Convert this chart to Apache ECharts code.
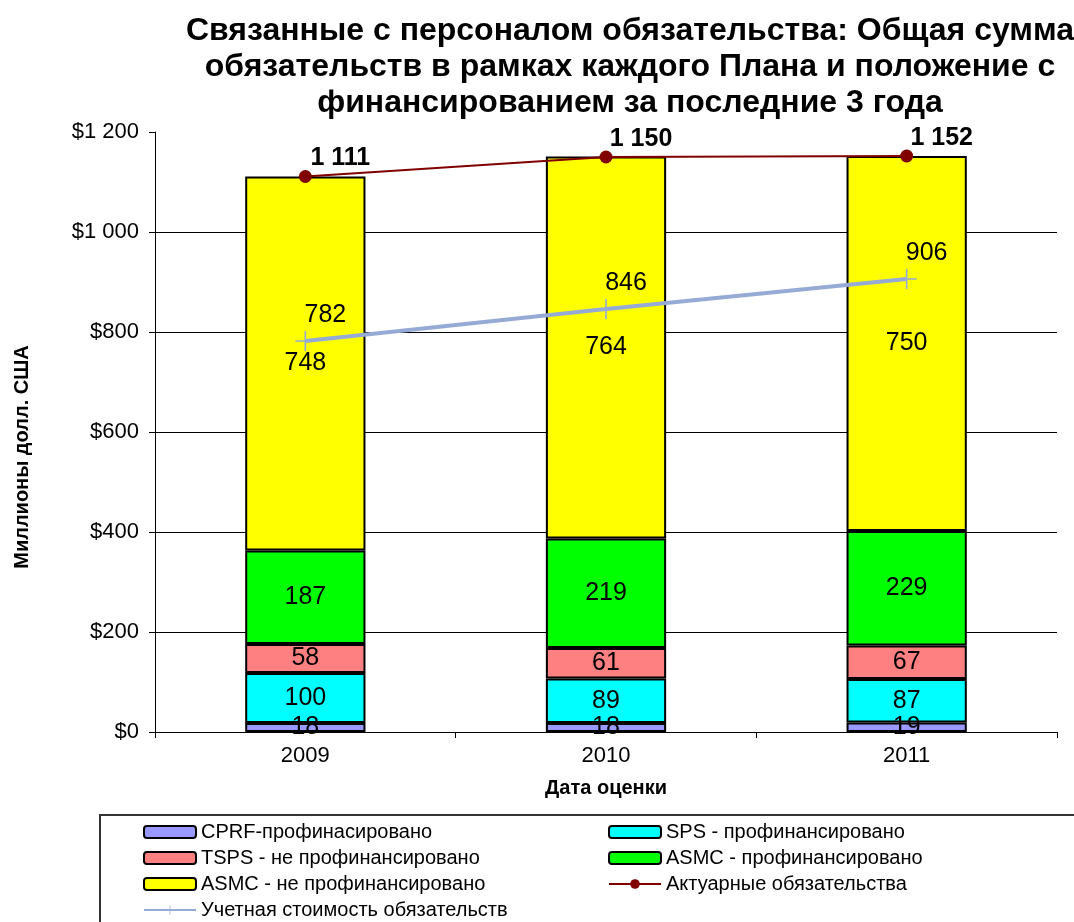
<!DOCTYPE html>
<html>
<head>
<meta charset="utf-8">
<script src="https://cdn.jsdelivr.net/npm/echarts@6/dist/echarts.min.js"></script>
<style>
  html, body { margin: 0; padding: 0; background: #fff; }
  #chart { width: 1074px; height: 922px; }
</style>
</head>
<body>
<div id="chart"></div>
<script>
// data
var years = ['2009', '2010', '2011']
var cprfFunded = [18, 18, 19]
var spsFunded = [100, 89, 87]
var tspsUnfunded = [58, 61, 67]
var asmcFunded = [187, 219, 229]
var asmcUnfunded = [748, 764, 750]
var actuarial = [1111, 1150, 1152]
var bookValue = [782, 846, 906]

var font = 'Liberation Sans, Arial, sans-serif'

function spaced(v) {
  return String(v).replace(/\B(?=(\d{3})+(?!\d))/g, ' ')
}

function barSerie(name, data, color) {
  return {
    name: name,
    type: 'bar',
    stack: 'total',
    barWidth: '40%',
    data: data,
    itemStyle: { color: color, borderColor: '#000', borderWidth: 2 },
    label: {
      show: true,
      position: 'inside',
      color: '#000',
      fontFamily: font,
      fontSize: 25
    }
  }
}

function legendCol(left, top, names) {
  return {
    orient: 'vertical',
    left: left,
    top: top,
    itemWidth: 52,
    itemHeight: 12,
    itemGap: 6,
    textStyle: { fontFamily: font, fontSize: 20, lineHeight: 20, color: '#000' },
    data: names
  }
}

var chart = echarts.init(document.getElementById('chart'))

chart.setOption({
  animation: false,
  backgroundColor: '#fff',
  title: {
    text: 'Связанные с персоналом обязательства: Общая сумма\nобязательств в рамках каждого Плана и положение с\nфинансированием за последние 3 года',
    left: 625,
    top: 8,
    textAlign: 'center',
    textStyle: {
      fontFamily: font,
      fontSize: 32,
      fontWeight: 'bold',
      lineHeight: 36,
      color: '#000'
    }
  },
  grid: {
    left: 155,
    right: 17,
    top: 132,
    bottom: 190
  },
  xAxis: {
    type: 'category',
    data: years,
    name: 'Дата оценки',
    nameLocation: 'middle',
    nameGap: 46,
    nameTextStyle: { fontFamily: font, fontSize: 20, fontWeight: 'bold', color: '#000' },
    axisLine: { lineStyle: { color: '#000', width: 1 } },
    axisTick: { show: true, length: 6, lineStyle: { color: '#000' } },
    axisLabel: { fontFamily: font, fontSize: 22, color: '#000', margin: 13 }
  },
  yAxis: {
    type: 'value',
    min: 0,
    max: 1200,
    interval: 200,
    name: 'Миллионы долл. США',
    nameLocation: 'middle',
    nameGap: 123,
    nameTextStyle: { fontFamily: font, fontSize: 20, fontWeight: 'bold', color: '#000', padding: [0, 50, 0, 0] },
    axisLine: { show: true, lineStyle: { color: '#000', width: 1 } },
    axisTick: { show: true, length: 6, lineStyle: { color: '#000' } },
    axisLabel: {
      fontFamily: font,
      fontSize: 22,
      color: '#000',
      margin: 16,
      formatter: function (v) { return '$' + spaced(v) }
    },
    splitLine: {
      show: true,
      lineStyle: { color: ['#000', '#000', '#000', '#000', '#000', '#000', 'transparent'], width: 1 }
    }
  },
  legend: [
    legendCol(138, 817, ['CPRF-профинасировано', 'TSPS - не профинансировано', 'ASMC - не профинансировано']),
    legendCol(138, 895, ['Учетная стоимость обязательств']),
    legendCol(603, 817, ['SPS - профинансировано', 'ASMC - профинансировано', 'Актуарные обязательства'])
  ],
  graphic: [
    {
      type: 'rect',
      shape: { x: 100, y: 815, width: 990, height: 130 },
      style: { fill: 'none', stroke: '#333', lineWidth: 2 },
      silent: true
    }
  ],
  series: [
    barSerie('CPRF-профинасировано', cprfFunded, '#9999ff'),
    barSerie('SPS - профинансировано', spsFunded, '#00ffff'),
    barSerie('TSPS - не профинансировано', tspsUnfunded, '#ff8080'),
    barSerie('ASMC - профинансировано', asmcFunded, '#00ff00'),
    barSerie('ASMC - не профинансировано', asmcUnfunded, '#ffff00'),
    {
      name: 'Актуарные обязательства',
      type: 'line',
      data: actuarial,
      z: 5,
      symbol: 'circle',
      symbolSize: 13,
      lineStyle: { color: '#800000', width: 2 },
      itemStyle: { color: '#800000' },
      label: {
        show: true,
        position: 'top',
        offset: [35, 6],
        color: '#000',
        fontFamily: font,
        fontSize: 25,
        fontWeight: 'bold',
        formatter: function (p) { return spaced(p.value) }
      }
    },
    {
      name: 'Учетная стоимость обязательств',
      type: 'line',
      data: bookValue,
      z: 5,
      symbol: 'path://M4.6,0h0.8v4.6h4.6v0.8h-4.6v4.6h-0.8v-4.6h-4.6v-0.8h4.6z',
      symbolSize: 20,
      lineStyle: { color: '#95abd6', width: 4 },
      itemStyle: { color: '#95abd6' },
      label: {
        show: true,
        position: 'top',
        offset: [20, 2],
        color: '#000',
        fontFamily: font,
        fontSize: 25,
        formatter: function (p) { return spaced(p.value) }
      }
    }
  ]
})
</script>
</body>
</html>
